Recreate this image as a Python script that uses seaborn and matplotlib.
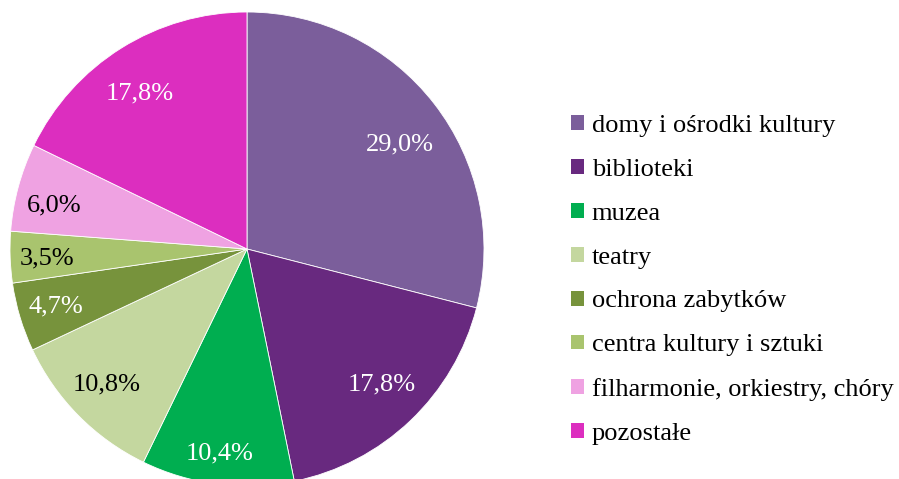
import matplotlib
matplotlib.use("Agg")
import numpy as np
import matplotlib.pyplot as plt
from matplotlib.patches import Patch
import seaborn as sns

categories = ["domy i ośrodki kultury", "biblioteki", "muzea", "teatry",
              "ochrona zabytków", "centra kultury i sztuki",
              "filharmonie, orkiestry, chóry", "pozostałe"]
values = [29.0, 17.8, 10.4, 10.8, 4.7, 3.5, 6.0, 17.8]
labels = ["29,0%", "17,8%", "10,4%", "10,8%", "4,7%", "3,5%", "6,0%", "17,8%"]
colors = ["#7B5E9B", "#68297F", "#00AE50", "#C4D79F",
          "#77933C", "#A9C46E", "#EFA2E2", "#DC2EBF"]
label_colors = ["white", "white", "white", "black", "white", "black", "black", "white"]
# label placement (radial distance as fraction of radius, angular nudge in degrees)
label_dist = [0.780, 0.807, 0.872, 0.825, 0.841, 0.845, 0.832, 0.798]
label_nudge = [-3.4, 1.3, -0.3, -0.7, 0.0, 0.6, 2.5, 2.4]

sns.set_theme(style="white")
plt.rcParams['font.family'] = ['Liberation Serif', 'DejaVu Serif']
plt.rcParams['text.color'] = 'black'

fig = plt.figure(figsize=(8.99, 4.79), dpi=100)
W, H = 899, 479
cx, cy, r = 247, 249, 237
ax = fig.add_axes([(cx - r) / W, (H - cy - r) / H, 2 * r / W, 2 * r / H])
wedges, _ = ax.pie(
    values, colors=colors, startangle=90, counterclock=False, radius=1,
    wedgeprops=dict(linewidth=0.6, edgecolor="white"))
for w, lab, c, d, n in zip(wedges, labels, label_colors, label_dist, label_nudge):
    ang = np.deg2rad((w.theta1 + w.theta2) / 2 + n)
    ax.text(d * np.cos(ang), d * np.sin(ang), lab, color=c, fontsize=19,
            ha="center", va="center")
ax.set_xlim(-1, 1)
ax.set_ylim(-1, 1)
ax.set_aspect("equal")
ax.axis("off")

handles = [Patch(facecolor=c, edgecolor="none") for c in colors]
leg = fig.legend(handles, categories, loc="center left",
                 bbox_to_anchor=(571 / W, (H - 280) / H), frameon=False,
                 fontsize=19, handlelength=0.49, handleheight=0.49,
                 handletextpad=0.3, labelspacing=0.83, borderpad=0,
                 borderaxespad=0, labelcolor="black")
fig.savefig("out.png", dpi=100)
